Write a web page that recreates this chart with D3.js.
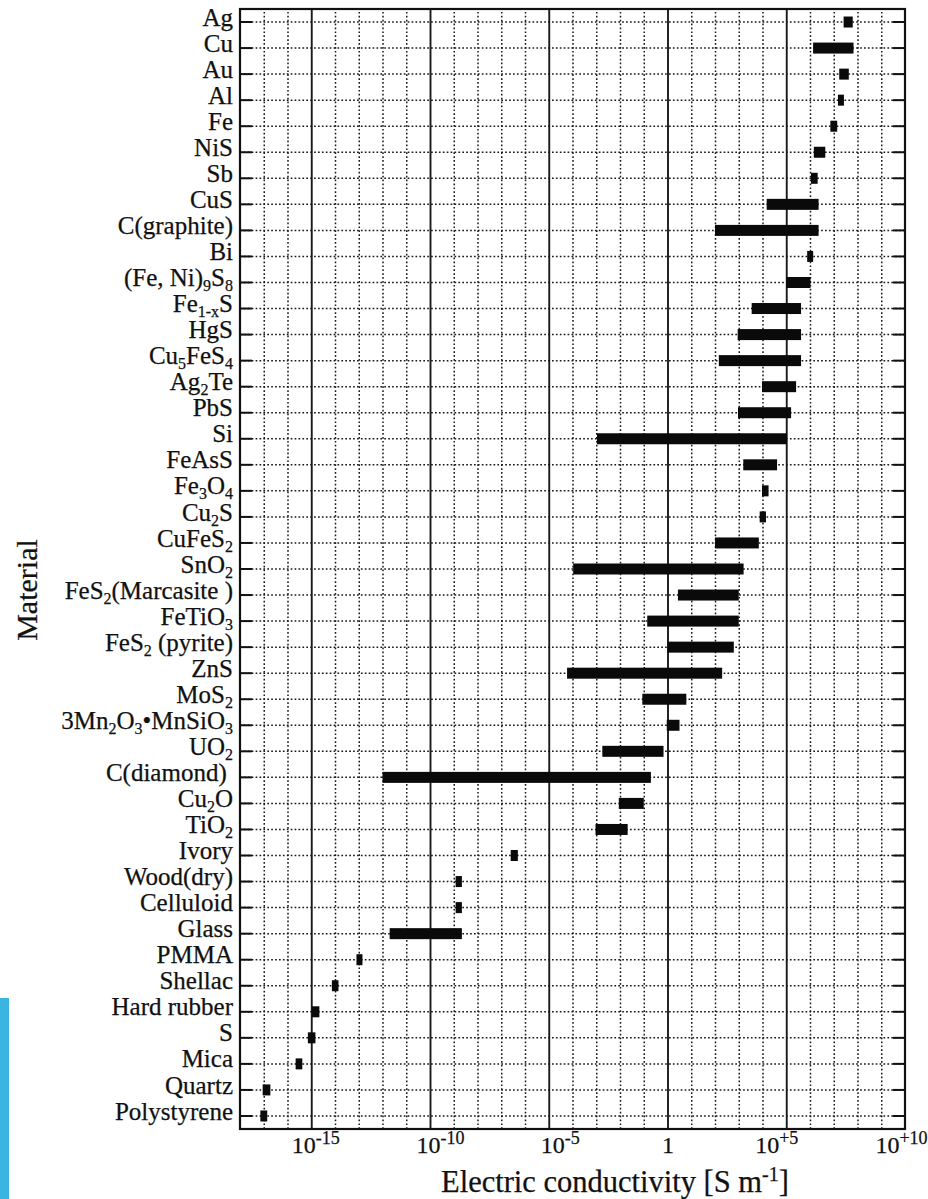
<!DOCTYPE html>
<html>
<head>
<meta charset="utf-8">
<script src="https://cdn.jsdelivr.net/npm/d3@7"></script>
<style>
  html, body { margin: 0; padding: 0; background: #fff; }
  svg { display: block; }
  text { font-family: "Liberation Serif", "Times New Roman", serif; fill: #111; stroke: #111; stroke-width: 0.25px; }
</style>
</head>
<body>
<svg id="chart" width="928" height="1199"></svg>
<script>
// Materials, top to bottom. "_x" or "_{...}" marks a subscript.
const materials = [
  "Ag", "Cu", "Au", "Al", "Fe", "NiS", "Sb", "CuS", "C(graphite)", "Bi",
  "(Fe, Ni)_9S_8", "Fe_{1-x}S", "HgS", "Cu_5FeS_4", "Ag_2Te", "PbS", "Si",
  "FeAsS", "Fe_3O_4", "Cu_2S", "CuFeS_2", "SnO_2", "FeS_2(Marcasite )",
  "FeTiO_3", "FeS_2 (pyrite)", "ZnS", "MoS_2", "3Mn_2O_3\u2022MnSiO_3", "UO_2",
  "C(diamond)\u00a0", "Cu_2O", "TiO_2", "Ivory", "Wood(dry)", "Celluloid", "Glass",
  "PMMA", "Shellac", "Hard rubber", "S", "Mica", "Quartz", "Polystyrene"
];

// Conductivity range of each material, S m^-1 (lower / upper end)
const lowS = [
  2.6e7, 1.35e6, 1.7e7, 1.5e7, 7.2e6, 1.45e6, 1.1e6, 1.5e4, 1.0e2, 7.6e5,
  1.0e5, 3.5e3, 9.0e2, 1.45e2, 9.5e3, 9.3e2, 1.07e-3,
  1.55e3, 9.5e3, 7.6e3, 1.0e2, 1.07e-4, 2.75,
  0.14, 1.0, 5.9e-5, 8.7e-2, 0.93, 1.8e-3,
  1.0e-12, 8.9e-3, 9.3e-4, 2.5e-7, 1.2e-9, 1.2e-9, 2.0e-12,
  8.0e-14, 7.4e-15, 1.07e-15, 7.2e-16, 2.2e-16, 9.0e-18, 7.2e-18
];
const highS = [
  6.3e7, 6.8e7, 4.3e7, 2.6e7, 1.4e7, 4.4e6, 2.1e6, 2.3e6, 2.3e6, 1.3e6,
  1.05e6, 4.2e5, 4.2e5, 4.2e5, 2.6e5, 1.6e5, 1.07e5,
  4.1e4, 1.8e4, 1.4e4, 7.0e3, 1.6e3, 1.0e3,
  1.0e3, 6.2e2, 2.0e2, 6.2, 3.2, 0.68,
  0.2, 0.1, 2.1e-2, 5.0e-7, 2.2e-9, 2.2e-9, 2.2e-9,
  1.4e-13, 1.4e-14, 2.2e-15, 1.5e-15, 4.2e-16, 1.9e-17, 1.4e-17
];

// Labelled decades on the conductivity axis
const tickValues = [1e-15, 1e-10, 1e-5, 1, 1e5, 1e10];
const tickExponents = ["-15", "-10", "-5", "", "+5", "+10"];

const xTitle = "Electric conductivity [S m";
const xTitleSup = "-1";
const xTitleEnd = "]";
const yTitle = "Material";

const svg = d3.select("#chart");
const plotLeft = 240, plotRight = 905, plotTop = 9, plotBottom = 1129;

const x = d3.scaleLog().domain([1e-18, 1e10]).range([plotLeft, plotRight]);
const y = d3.scaleBand().domain(materials).range([plotTop, plotBottom]);
const yc = d => y(d) + y.bandwidth() / 2;

// Split "Fe_3O_4" style markup into plain / subscript pieces
function parseLabel(s) {
  const parts = [];
  const re = /_\{([^}]*)\}|_(.)/g;
  let last = 0, m;
  while ((m = re.exec(s)) !== null) {
    if (m.index > last) parts.push({ t: s.slice(last, m.index), sub: false });
    parts.push({ t: m[1] !== undefined ? m[1] : m[2], sub: true });
    last = re.lastIndex;
  }
  if (last < s.length) parts.push({ t: s.slice(last), sub: false });
  return parts;
}

function writeRich(textSel, parts, size, subSize, shift) {
  textSel.text(null);
  let down = false;
  parts.forEach(p => {
    const ts = textSel.append("tspan").text(p.t);
    if (p.sub && !down) { ts.attr("dy", shift); down = true; }
    else if (!p.sub && down) { ts.attr("dy", -shift); down = false; }
    ts.attr("font-size", p.sub ? subSize : size);
  });
}

// Grid: one line per decade, solid every five decades
const decades = d3.range(-17, 10).map(e => Math.pow(10, e));
const isMajor = d => Math.round(Math.log10(d)) % 5 === 0;
const vgrid = svg.append("g")
  .attr("transform", `translate(0,${plotBottom})`)
  .call(d3.axisBottom(x).tickValues(decades).tickSize(-(plotBottom - plotTop)).tickFormat(""));
vgrid.select(".domain").remove();
vgrid.selectAll(".tick line")
  .attr("stroke", "#1a1a1a")
  .attr("stroke-width", d => isMajor(d) ? 1.9 : 1.5)
  .attr("stroke-dasharray", d => isMajor(d) ? null : "1.7,2.2");

const hgrid = svg.append("g")
  .attr("transform", `translate(${plotLeft},0)`)
  .call(d3.axisLeft(y).tickSize(-(plotRight - plotLeft)).tickFormat(""));
hgrid.select(".domain").remove();
hgrid.selectAll(".tick line")
  .attr("stroke", "#1a1a1a")
  .attr("stroke-width", 1.5)
  .attr("stroke-dasharray", "1.7,2.2");

// Range bars
svg.append("g").selectAll("rect")
  .data(materials)
  .join("rect")
  .attr("x", (d, i) => x(lowS[i]))
  .attr("width", (d, i) => Math.max(x(highS[i]) - x(lowS[i]), 6))
  .attr("y", d => yc(d) - 5.5)
  .attr("height", 11)
  .attr("fill", "#0a0a0a");

// Left axis: inward ticks + material labels
const yAxis = svg.append("g")
  .attr("transform", `translate(${plotLeft},0)`)
  .call(d3.axisLeft(y).tickSize(-12).tickPadding(7));
yAxis.select(".domain").remove();
yAxis.selectAll(".tick line").attr("stroke", "#111").attr("stroke-width", 2);
yAxis.selectAll(".tick text")
  .attr("dy", "0.36em")
  .each(function(d) { writeRich(d3.select(this), parseLabel(d), 25, 16, 5); });

// Right axis: inward ticks only
const yAxisR = svg.append("g")
  .attr("transform", `translate(${plotRight},0)`)
  .call(d3.axisRight(y).tickSize(-12).tickFormat(""));
yAxisR.select(".domain").remove();
yAxisR.selectAll(".tick line").attr("stroke", "#111").attr("stroke-width", 2);

// Bottom axis labels: powers of ten, each nudged sideways as typeset
const tickLabelShift = [4, 10, 11, 0, -10, -4];
const xAxis = svg.append("g")
  .attr("transform", `translate(0,${plotBottom})`)
  .call(d3.axisBottom(x).tickValues(tickValues).tickSize(0).tickPadding(8));
xAxis.select(".domain").remove();
xAxis.selectAll(".tick text")
  .attr("dy", null)
  .attr("y", 24)
  .attr("x", (d, i) => tickLabelShift[i])
  .each(function(d, i) {
    const t = d3.select(this).text(null);
    const e = tickExponents[i];
    if (e === "") { t.append("tspan").attr("font-size", 24).text("1"); return; }
    t.append("tspan").attr("font-size", 24).text("10");
    t.append("tspan").attr("font-size", 18).attr("dy", -9).text(e);
  });

// Plot frame
svg.append("rect")
  .attr("x", plotLeft).attr("y", plotTop)
  .attr("width", plotRight - plotLeft).attr("height", plotBottom - plotTop)
  .attr("fill", "none").attr("stroke", "#111").attr("stroke-width", 2.2);

// Axis titles
const xt = svg.append("text")
  .attr("x", 615).attr("y", 1192)
  .attr("text-anchor", "middle")
  .attr("font-size", 30.5);
xt.append("tspan").text(xTitle);
xt.append("tspan").attr("font-size", 20).attr("dy", -11).text(xTitleSup);
xt.append("tspan").attr("dy", 11).text(xTitleEnd);

svg.append("text")
  .attr("transform", "translate(37,590) rotate(-90)")
  .attr("text-anchor", "middle")
  .attr("font-size", 30)
  .text(yTitle);

// Edge strip on the lower left
svg.append("rect")
  .attr("x", 0).attr("y", 998).attr("width", 9).attr("height", 201)
  .attr("fill", "#3bb4e2");
</script>
</body>
</html>
